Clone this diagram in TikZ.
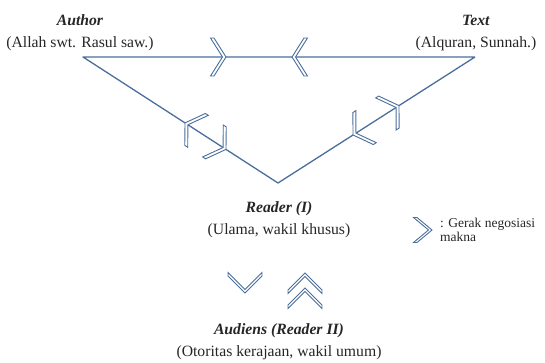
\documentclass[tikz,border=0pt]{standalone}
\usepackage{fontspec}
\setmainfont{Liberation Serif}
\definecolor{linkblue}{RGB}{74,110,156}

\begin{document}
\begin{tikzpicture}[
		x=1pt, y=-1pt,
		every node/.style = {align=center, inner sep=0pt, text=black!85},
		role/.style = {font=\fontsize{15.7}{22}\selectfont},
		legend/.style = {font=\fontsize{13.5}{14.5}\selectfont, align=left},
		link/.style = {draw=linkblue, line width=1.3pt, line join=round},
		chev/.style = {draw=linkblue, fill=white, line width=0.9pt, line join=miter},
		pics/chevron/.style args={#1/#2}{code={
				\draw[chev] (-#1,#2) -- (0,0) -- (-#1,-#2) -- (-#1-3.5,-#2) -- (-3.5,0) -- (-#1-3.5,#2) -- cycle;}},
		]
		\useasboundingbox (0,0) rectangle (545,363);
		
		\coordinate (A) at (83,57);
		\coordinate (T) at (475,57);
		\coordinate (R) at (278,183);
		
		\node[role] (author) at (80,33) {\textbf{\textit{Author}}\\(Allah swt. Rasul saw.)};
		\node[role] (text) at (476,33) {\textbf{\textit{Text}}\\(Alquran, Sunnah.)};
		\node[role] (reader) at (279,220) {\textbf{\textit{Reader (I)}}\\(Ulama, wakil khusus)};
		\node[role] (audiens) at (279,342) {\textbf{\textit{Audiens (Reader II)}}\\(Otoritas kerajaan, wakil umum)};
		
		\draw[link] (T) -- (A) -- (R) -- (T);
		
		% negotiation marks on the triangle
		\pic[rotate=0] at (226,57) {chevron=12/19};
		\pic[rotate=180] at (292,57) {chevron=12/19};
		\pic[rotate=-212.9] at (185,122.9) {chevron=12/19};
		\pic[rotate=-32.9] at (226,149.4) {chevron=12/19};
		\pic[rotate=-147.4] at (353,135) {chevron=12/19};
		\pic[rotate=32.6] at (399,105.6) {chevron=12/19};
		
		% reader <-> audiens
		\pic[rotate=-90] at (245,293) {chevron=17/17};
		\pic[rotate=90] at (305,273) {chevron=17/17};
		\pic[rotate=90] at (305,288) {chevron=17/17};
		
		% legend
		\pic at (432,230) {chevron=15/12.5};
		\node[legend, anchor=west] (key) at (440,230) {: Gerak negosiasi\\makna};
\end{tikzpicture}
\end{document}
